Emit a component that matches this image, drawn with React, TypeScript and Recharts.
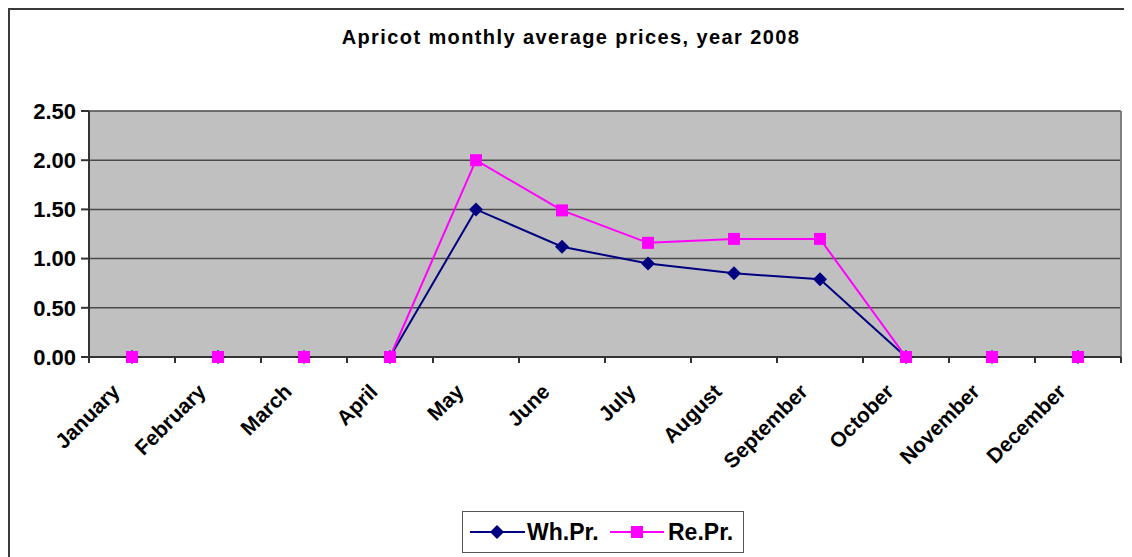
import React from 'react';
import { LineChart, Line, XAxis, YAxis, CartesianGrid, ReferenceLine } from 'recharts';

// Monthly prices
const months = [
  'January', 'February', 'March', 'April', 'May', 'June',
  'July', 'August', 'September', 'October', 'November', 'December',
];
const wholesale = [0, 0, 0, 0, 1.5, 1.12, 0.95, 0.85, 0.79, 0, 0, 0];
const retail = [0, 0, 0, 0, 2.0, 1.49, 1.16, 1.2, 1.2, 0, 0, 0];
const yTicks = [0, 0.5, 1, 1.5, 2, 2.5];
const seriesNames = ['Wh.Pr.', 'Re.Pr.'];

const data = months.map((m, i) => ({ idx: i, month: m, wh: wholesale[i], re: retail[i] }));
const labelTicks = months.map((_, i) => i);
const boundaryTicks = [...months.map((_, i) => i - 0.5), months.length - 0.5];

const FONT = '"Liberation Sans", Arial, sans-serif';
const NAVY = '#000080';
const PINK = '#FF00FF';

const Diamond = (props: any) => {
  const { cx, cy } = props;
  if (cx == null || cy == null) return null;
  return <polygon points={`${cx},${cy - 7} ${cx + 7},${cy} ${cx},${cy + 7} ${cx - 7},${cy}`} fill={NAVY} />;
};

const Square = (props: any) => {
  const { cx, cy } = props;
  if (cx == null || cy == null) return null;
  return <rect x={cx - 6} y={cy - 6} width={12} height={12} fill={PINK} />;
};

const MonthTick = (props: any) => {
  const { x, y, payload } = props;
  return (
    <text
      transform={`translate(${x - 11},${y + 35}) rotate(-45)`}
      textAnchor="end"
      fontFamily={FONT}
      fontWeight="bold"
      fontSize={21}
      fill="#000"
    >
      {months[payload.value]}
    </text>
  );
};

const NoLabel = () => <g />;

const LegendBox = () => (
  <div
    style={{
      position: 'absolute',
      left: 452,
      top: 501,
      width: 282,
      height: 42,
      boxSizing: 'border-box',
      border: '1px solid #555',
      background: '#fff',
    }}
  >
    <svg width={282} height={42} style={{ position: 'absolute', left: -1, top: -1 }}>
      <line x1={8} y1={21} x2={63} y2={21} stroke={NAVY} strokeWidth={2} />
      <Diamond cx={35} cy={21} />
      <text x={65} y={29} fontFamily={FONT} fontWeight="bold" fontSize={23}>{seriesNames[0]}</text>
      <line x1={148} y1={21} x2={202} y2={21} stroke={PINK} strokeWidth={2} />
      <Square cx={175} cy={21} />
      <text x={206} y={29} fontFamily={FONT} fontWeight="bold" fontSize={23}>{seriesNames[1]}</text>
    </svg>
  </div>
);

export default function App() {
  return (
    <div
      style={{
        position: 'relative',
        width: 1124,
        height: 549,
        boxSizing: 'border-box',
        borderLeft: '2px solid #3a3a3a',
        borderTop: '2px solid #3a3a3a',
        background: '#fff',
      }}
    >
      <div
        style={{
          position: 'absolute',
          left: 0,
          top: 16,
          width: 1122,
          textAlign: 'center',
          fontFamily: FONT,
          fontWeight: 'bold',
          fontSize: 20,
          letterSpacing: 1.4,
        }}
      >
        Apricot monthly average prices, year 2008
      </div>
      <LineChart width={1122} height={547} data={data} margin={{ top: 101, right: 11, left: 19, bottom: 100 }}>
        <CartesianGrid vertical={false} fill="#C0C0C0" stroke="#4a4a4a" strokeWidth={1.5} />
        <XAxis
          xAxisId="labels"
          dataKey="idx"
          type="number"
          domain={[-0.5, 11.5]}
          ticks={labelTicks}
          tick={<MonthTick />}
          tickLine={false}
          axisLine={false}
          tickSize={0}
          tickMargin={0}
          interval={0}
          height={99}
        />
        <XAxis
          dataKey="idx"
          type="number"
          domain={[-0.5, 11.5]}
          ticks={boundaryTicks}
          tick={<NoLabel />}
          interval={0}
          height={1}
          tickSize={6}
          stroke="#333"
          strokeWidth={2}
        />
        <YAxis
          domain={[0, 2.5]}
          ticks={yTicks}
          width={60}
          tickSize={8}
          tickMargin={5}
          stroke="#333"
          strokeWidth={2}
          tickFormatter={(v: number) => v.toFixed(2)}
          tick={{ fill: '#000', fontFamily: FONT, fontWeight: 'bold', fontSize: 22 }}
        />
        <ReferenceLine x={11.5} stroke="#808080" strokeWidth={2} />
        <Line
          dataKey="wh"
          name={seriesNames[0]}
          stroke={NAVY}
          strokeWidth={2}
          dot={<Diamond />}
          activeDot={false}
          isAnimationActive={false}
        />
        <Line
          dataKey="re"
          name={seriesNames[1]}
          stroke={PINK}
          strokeWidth={2}
          dot={<Square />}
          activeDot={false}
          isAnimationActive={false}
        />
      </LineChart>
      <LegendBox />
    </div>
  );
}
